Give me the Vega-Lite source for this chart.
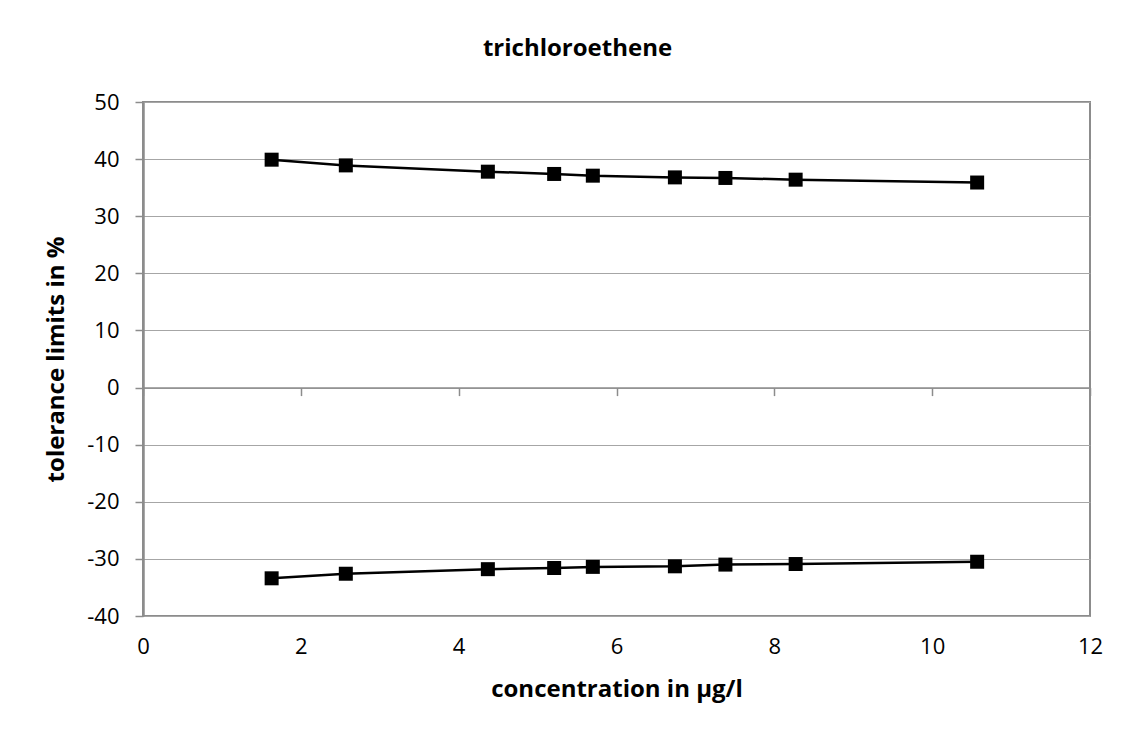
{
  "$schema": "https://vega.github.io/schema/vega-lite/v6.json",
  "width": 947,
  "height": 514,
  "autosize": "none",
  "padding": {"left": 143, "top": 102, "right": 51, "bottom": 120},
  "background": "white",
  "config": {
    "font": "Open Sans",
    "view": {"stroke": "#8c8c8c", "strokeWidth": 2}
  },
  "title": {
    "text": "trichloroethene",
    "font": "Open Sans",
    "fontSize": 24,
    "fontWeight": "bold",
    "color": "black",
    "anchor": "middle",
    "dx": -39,
    "offset": 30
  },
  "data": {
    "values": [
      {"conc": 1.63, "limit": 39.9, "series": "upper"},
      {"conc": 2.57, "limit": 38.9, "series": "upper"},
      {"conc": 4.37, "limit": 37.8, "series": "upper"},
      {"conc": 5.21, "limit": 37.4, "series": "upper"},
      {"conc": 5.70, "limit": 37.1, "series": "upper"},
      {"conc": 6.74, "limit": 36.8, "series": "upper"},
      {"conc": 7.38, "limit": 36.7, "series": "upper"},
      {"conc": 8.27, "limit": 36.4, "series": "upper"},
      {"conc": 10.57, "limit": 35.9, "series": "upper"},
      {"conc": 1.63, "limit": -33.4, "series": "lower"},
      {"conc": 2.57, "limit": -32.6, "series": "lower"},
      {"conc": 4.37, "limit": -31.8, "series": "lower"},
      {"conc": 5.21, "limit": -31.6, "series": "lower"},
      {"conc": 5.70, "limit": -31.4, "series": "lower"},
      {"conc": 6.74, "limit": -31.3, "series": "lower"},
      {"conc": 7.38, "limit": -31.0, "series": "lower"},
      {"conc": 8.27, "limit": -30.9, "series": "lower"},
      {"conc": 10.57, "limit": -30.5, "series": "lower"}
    ]
  },
  "resolve": {"axis": {"x": "independent"}},
  "layer": [
    {
      "mark": {"type": "point", "opacity": 0},
      "encoding": {
        "x": {
          "field": "conc",
          "type": "quantitative",
          "scale": {"domain": [0, 12], "nice": false, "zero": false},
          "axis": {
            "orient": "bottom",
            "offset": -228.4,
            "values": [0, 2, 4, 6, 8, 10, 12],
            "labels": false,
            "title": null,
            "grid": false,
            "domain": true,
            "domainColor": "#8c8c8c",
            "domainWidth": 1.5,
            "ticks": true,
            "tickSize": 8,
            "tickColor": "#8c8c8c",
            "tickWidth": 1.5
          }
        },
        "y": {
          "field": "limit",
          "type": "quantitative",
          "scale": {"domain": [-40, 50], "nice": false, "zero": false}
        }
      }
    },
    {
      "mark": {
        "type": "line",
        "color": "black",
        "strokeWidth": 2.5,
        "point": {"shape": "square", "size": 196, "filled": true, "color": "black", "opacity": 1}
      },
      "encoding": {
        "x": {
          "field": "conc",
          "type": "quantitative",
          "scale": {"domain": [0, 12], "nice": false, "zero": false},
          "axis": {
            "orient": "bottom",
            "values": [0, 2, 4, 6, 8, 10, 12],
            "title": "concentration in µg/l",
            "titleFont": "Open Sans",
            "titleFontSize": 24,
            "titleFontWeight": "bold",
            "titleColor": "black",
            "titlePadding": 20,
            "labelFont": "Open Sans",
            "labelFontSize": 22,
            "labelColor": "black",
            "labelPadding": 20,
            "labelFlush": false,
            "grid": false,
            "domain": false,
            "ticks": false
          }
        },
        "y": {
          "field": "limit",
          "type": "quantitative",
          "scale": {"domain": [-40, 50], "nice": false, "zero": false},
          "axis": {
            "values": [-40, -30, -20, -10, 0, 10, 20, 30, 40, 50],
            "labelExpr": "'' + datum.value",
            "title": "tolerance limits in %",
            "titleFont": "Open Sans",
            "titleFontSize": 24,
            "titleFontWeight": "bold",
            "titleColor": "black",
            "titlePadding": 18,
            "labelFont": "Open Sans",
            "labelFontSize": 22,
            "labelColor": "black",
            "labelPadding": 16,
            "labelFlush": false,
            "grid": true,
            "gridColor": "#a6a6a6",
            "gridWidth": 1,
            "domain": true,
            "domainColor": "#8c8c8c",
            "domainWidth": 2.5,
            "ticks": true,
            "tickSize": 8,
            "tickColor": "#8c8c8c",
            "tickWidth": 1.5
          }
        },
        "detail": {"field": "series", "type": "nominal"}
      }
    }
  ]
}
